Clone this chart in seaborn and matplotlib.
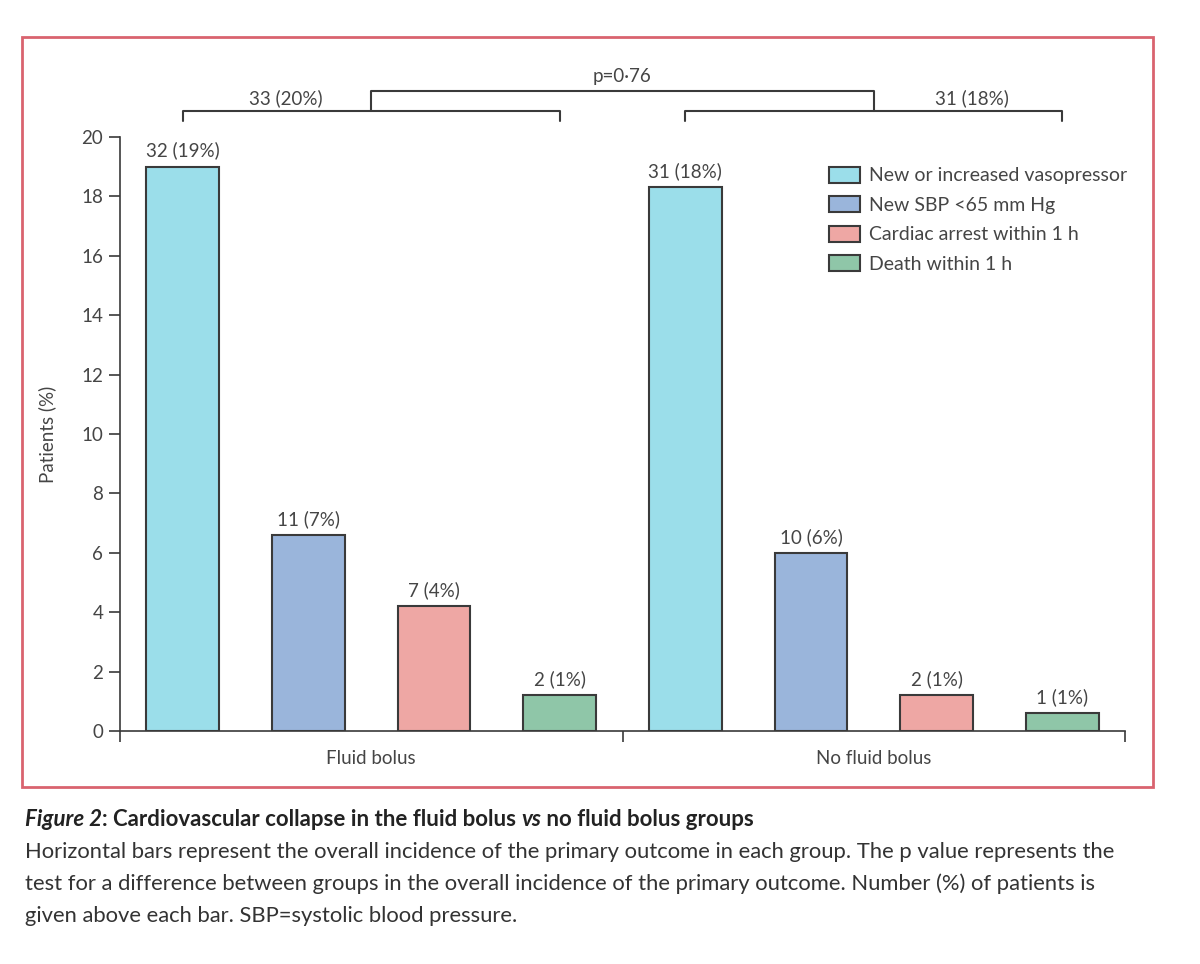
import matplotlib
matplotlib.use("Agg")
import matplotlib.pyplot as plt
import seaborn as sns
import pandas as pd
from matplotlib.patches import Rectangle

groups = ["Fluid bolus", "No fluid bolus"]
outcomes = ["New or increased vasopressor", "New SBP <65 mm Hg",
            "Cardiac arrest within 1 h", "Death within 1 h"]
fluid_values = [19.0, 6.6, 4.2, 1.2]
nofluid_values = [18.3, 6.0, 1.2, 0.6]
fluid_labels = ["32 (19%)", "11 (7%)", "7 (4%)", "2 (1%)"]
nofluid_labels = ["31 (18%)", "10 (6%)", "2 (1%)", "1 (1%)"]
overall_labels = ["33 (20%)", "31 (18%)"]
p_label = "p=0·76"
colors = ["#9bdeea", "#9ab5db", "#eea7a4", "#8fc6a8"]
yticks = [0, 2, 4, 6, 8, 10, 12, 14, 16, 18, 20]

sns.set_theme(style="white")
plt.rcParams['font.family'] = ['Lato', 'DejaVu Sans']
TXT = "#454545"

df = pd.DataFrame({
    "group": [groups[0]] * 4 + [groups[1]] * 4,
    "outcome": outcomes * 2,
    "value": fluid_values + nofluid_values,
})

fig = plt.figure(figsize=(12, 9.64), dpi=100)
ax = fig.add_axes([0.1, 0.2417, 0.8375, 0.6163])

sns.barplot(data=df, x="group", y="value", hue="outcome", hue_order=outcomes,
            order=groups, palette=colors, width=1.0, gap=0.42,
            edgecolor="#3a3a3a", linewidth=1.5, ax=ax, saturation=1)

ax.set_xlim(-0.5, 1.5)
ax.set_ylim(0, 20)
ax.set_yticks(yticks)
ax.set_yticklabels([str(t) for t in yticks], fontsize=13.5, color=TXT)
ax.set_xticks([-0.5, 0.5, 1.5])
ax.set_xticklabels(["", "", ""])
ax.set_xticks([0, 1], minor=True)
ax.set_xticklabels(groups, minor=True, fontsize=13.5, color=TXT)
ax.tick_params(axis="x", which="minor", length=0, pad=14)
ax.tick_params(axis="x", which="major", length=8, width=1.2, color="#3a3a3a", direction="out", bottom=True)
ax.tick_params(axis="y", length=8, width=1.2, color="#3a3a3a", direction="out", left=True, pad=4)
ax.set_xlabel("")
ax.set_ylabel("Patients (%)", fontsize=13.5, color=TXT, labelpad=18)
for s in ["top", "right"]:
    ax.spines[s].set_visible(False)
for s in ["left", "bottom"]:
    ax.spines[s].set_color("#3a3a3a")
    ax.spines[s].set_linewidth(1.2)

# bar labels
labels_by_hue = [[fluid_labels[i], nofluid_labels[i]] for i in range(4)]
for cont, labs in zip(ax.containers, labels_by_hue):
    ax.bar_label(cont, labels=labs, padding=5, fontsize=13.5, color=TXT)

# legend
handles, _ = ax.get_legend_handles_labels()
leg = ax.legend(handles, outcomes, loc="upper left", bbox_to_anchor=(0.698, 0.963),
                frameon=False, fontsize=14, handlelength=1.6, handleheight=0.9,
                handletextpad=0.45, labelspacing=0.6, borderaxespad=0)
for t in leg.get_texts():
    t.set_color(TXT)

# brackets (outside axes)
lc = "#3a3a3a"
offs = [-0.375, -0.125, 0.125, 0.375]
kw = dict(color=lc, lw=1.5, clip_on=False)
y_low, y_mid, y_top = 20.54, 20.88, 21.55
for gi in range(2):
    x0, x1 = gi + offs[0], gi + offs[3]
    ax.plot([x0, x0, x1, x1], [y_low, y_mid, y_mid, y_low], **kw)
ax.plot([0, 0, 1, 1], [y_mid, y_top, y_top, y_mid], **kw)
ax.text(-0.17, y_mid + 0.12, overall_labels[0], ha="center", va="bottom", fontsize=13.5, color=TXT)
ax.text(1.195, y_mid + 0.12, overall_labels[1], ha="center", va="bottom", fontsize=13.5, color=TXT)
ax.text(0.5, y_top + 0.2, p_label, ha="center", va="bottom", fontsize=13.5, color=TXT)

# red border
fig.patches.append(Rectangle((22 / 1200, 1 - 787 / 964), (1153 - 22) / 1200, (787 - 37) / 964,
                             transform=fig.transFigure, fill=False, edgecolor="#d9636f", lw=2))

# caption
cap_font = ['Lato', 'DejaVu Sans']
fig.canvas.draw()
rend = fig.canvas.get_renderer()
x = 25
pieces = [("Figure 2", "italic"), (": Cardiovascular collapse in the fluid bolus ", "normal"),
          ("vs", "italic"), (" no fluid bolus groups", "normal")]
for s, st in pieces:
    t = fig.text(x / 1200, 1 - 820 / 964, s, fontsize=16, fontweight="bold", fontstyle=st,
                 color="#222222", va="center", family=cap_font)
    x = t.get_window_extent(rend).x1
body = ["Horizontal bars represent the overall incidence of the primary outcome in each group. The p value represents the",
        "test for a difference between groups in the overall incidence of the primary outcome. Number (%) of patients is",
        "given above each bar. SBP=systolic blood pressure."]
for i, line in enumerate(body):
    fig.text(25 / 1200, 1 - (852 + 32 * i) / 964, line, fontsize=15.8, color="#333333",
             va="center", family=cap_font)

fig.savefig("out.png", dpi=100)
